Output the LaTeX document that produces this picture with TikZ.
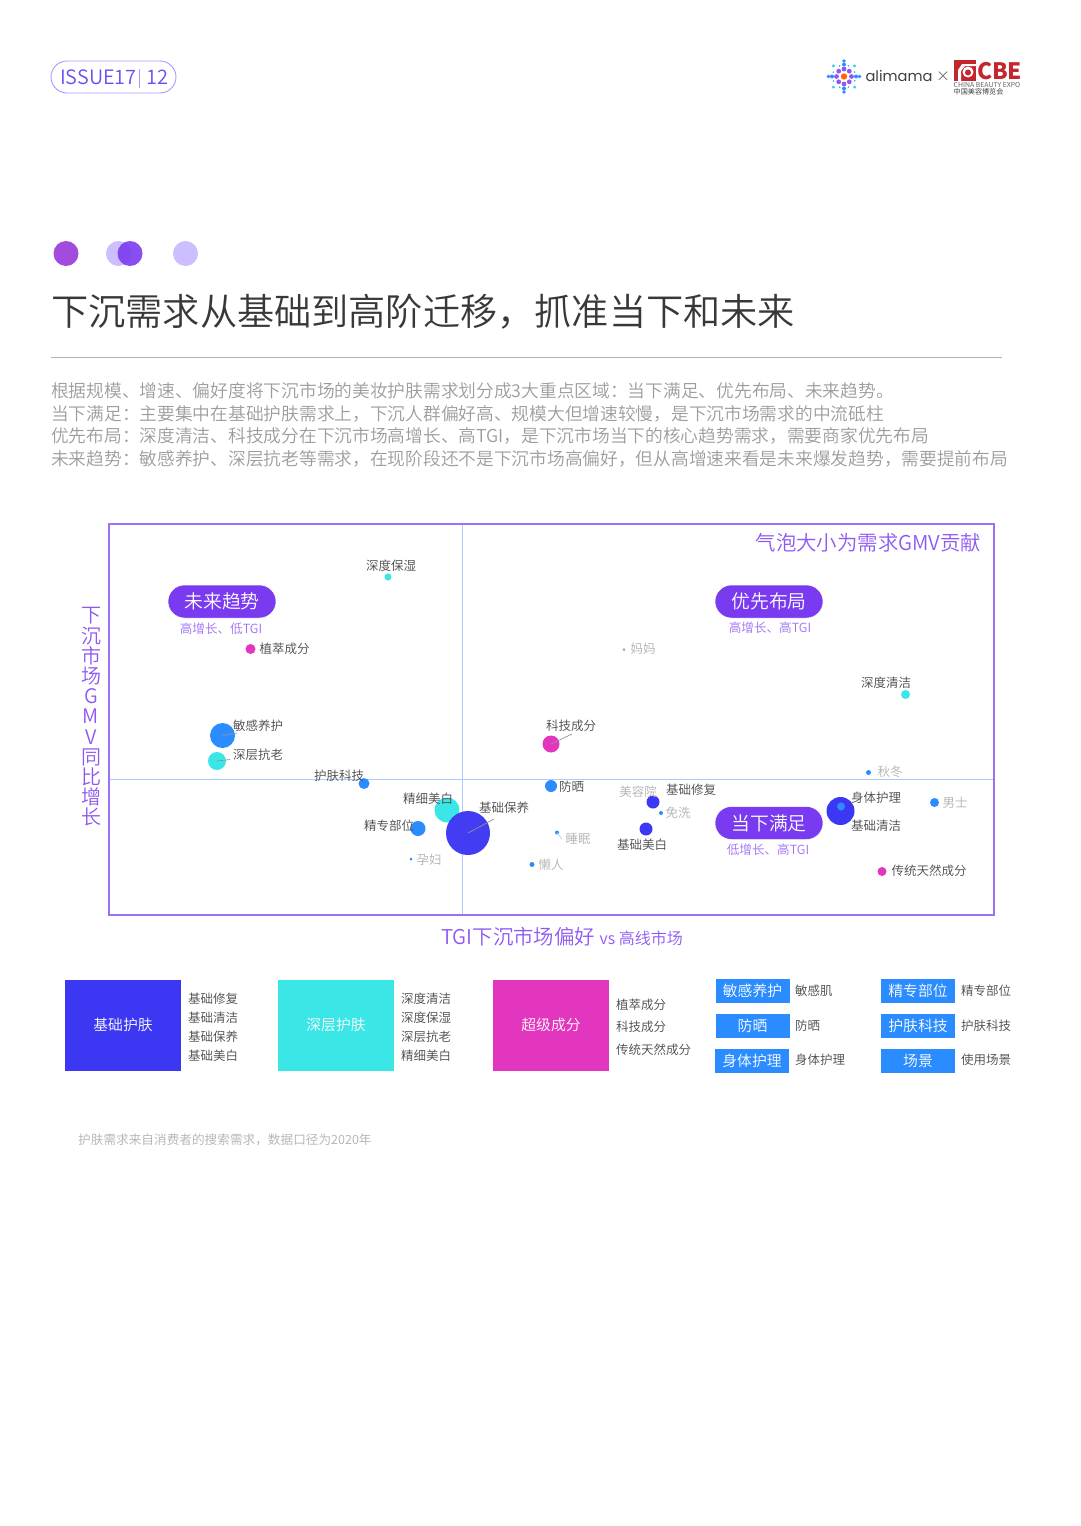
\documentclass[tikz,border=0pt]{standalone}
\usepackage{fontspec}
\setmainfont{Noto Sans CJK SC}
\newfontfamily\lightcjk{Noto Sans CJK SC DemiLight}
\newfontfamily\popfont{Poppins}
\definecolor{indigoc}{HTML}{3C37F2}
\definecolor{cyanc}{HTML}{3BE6E6}
\definecolor{magc}{HTML}{E236BE}
\definecolor{bluec}{HTML}{2B8CFF}
\definecolor{purc}{HTML}{7A3BF0}
\definecolor{framec}{HTML}{9E70F6}
\definecolor{axisc}{HTML}{A9CBFF}
\definecolor{labc}{HTML}{484848}
\definecolor{grayc}{HTML}{B0B0B0}
\definecolor{bodyc}{HTML}{9C9C9C}
\definecolor{lilac}{HTML}{CDBFFF}
\definecolor{redc}{HTML}{C4262E}
\definecolor{issueline}{HTML}{A79BFF}
\definecolor{issuetext}{HTML}{6A4DF5}
\definecolor{dotone}{HTML}{A24BDD}
\newcommand{\fs}[1]{\fontsize{#1}{#1}\selectfont}
\tikzset{
  x=1pt,y=-1pt,
  lab/.style={inner sep=0pt,text=labc,font=\lightcjk\fs{12.5}},
  glab/.style={inner sep=0pt,text=grayc,font=\lightcjk\fs{12.5}},
  bub/.style={circle,inner sep=0pt,minimum size=#1*2pt},
  pill/.style={draw=white,line width=.5pt,fill=purc,text=white,rounded corners=16.5pt,minimum width=108pt,minimum height=33pt,inner sep=0pt,font=\lightcjk\fs{18.8}},
  sub/.style={inner sep=0pt,text=framec,font=\lightcjk\fs{12.6}},
  bigbox/.style={draw=white,line width=.5pt,minimum width=117pt,minimum height=92pt,inner sep=0pt,text=white,font=\lightcjk\fs{14.8}},
  smallbox/.style={fill=bluec,minimum width=74pt,minimum height=24pt,inner sep=0pt,text=white,font=\lightcjk\fs{14.8}},
  body/.style={anchor=west,inner sep=0pt,text=bodyc,font=\lightcjk\fs{17.72}},
  leader/.style={draw=gray!85,line width=.7pt},
}
\begin{document}
\begin{tikzpicture}
\useasboundingbox (0,0) rectangle (1080,1526);
% header pill
\node[draw=issueline,line width=.9pt,rounded corners=16pt,minimum width=125pt,minimum height=32pt,inner sep=0pt] (issue) at (113.5,77) {};
\node[inner sep=0pt,anchor=west,text=issuetext,font=\lightcjk\fs{19.8}] (issuetxt) at (60,77) {ISSUE17};
\draw[issueline,line width=.7pt] (139,69) -- (139,88);
\node[inner sep=0pt,anchor=west,text=issuetext,font=\lightcjk\fs{20}] (issuenum) at (146.5,77) {12};
% logo dots
\foreach \a in {0,45,...,315}{
  \fill[purc!85!white] (844,76.5) ++(\a:7.5) circle (2.4);
  \fill[bluec!70!cyanc] (844,76.5) ++(\a+22:11.5) circle (.9);
}
\foreach \a in {0,90,180,270}{
  \fill[bluec] (844,76.5) ++(\a:12) circle (2);
  \fill[bluec] (844,76.5) ++(\a:15.5) circle (1.8);
}
\foreach \a in {45,135,225,315}{\fill[cyanc!70!bluec] (844,76.5) ++(\a:15) circle (1.6);}
\fill[orange!80!red] (844,76.5) circle (3.2);
\node[inner sep=0pt,text=black!75,font=\popfont\fs{14.6}] (alimama) at (899,76) {alimama};
\node[inner sep=0pt,text=black!60,font=\lightcjk\fs{14}] (cross) at (943,77) {×};
\fill[redc] (954,60) rectangle (976,81);
\fill[white] (968,72) circle (5.5);
\fill[redc] (968,72.5) circle (3);
\fill[white] (958,81) -- (958,70) -- (962,64) -- (976,64) -- (976,66) -- (965,66) -- (961,71) -- (961,81) -- cycle;
\node[inner sep=0pt,anchor=west,text=redc,font=\bfseries\fs{22.6}] (cbe) at (977,71) {CBE};
\node[inner sep=0pt,anchor=west,text=black!60,font=\fs{6.9}] (cbe2) at (953.5,85) {CHINA BEAUTY EXPO};
\node[inner sep=0pt,anchor=west,text=black!75,font=\fs{7.1}] (cbe3) at (953.5,91.5) {中国美容博览会};
% section dots
\fill[dotone] (66,253.5) circle (12.5);
\fill[lilac] (118.5,253.5) circle (12.5);
\fill[purc,opacity=.9] (130,253.5) circle (12.5);
\fill[lilac] (185.5,253.5) circle (12.5);
% title
\node[anchor=west,inner sep=0pt,text=black!78,font=\lightcjk\fs{37.2}] (title) at (51,312) {下沉需求从基础到高阶迁移，抓准当下和未来};
\draw[black!30,line width=.8pt] (51,357) -- (1002,357);
\node[body] (b1) at (51,391) {根据规模、增速、偏好度将下沉市场的美妆护肤需求划分成3大重点区域：当下满足、优先布局、未来趋势。};
\node[body] (b2) at (51,413.5) {当下满足：主要集中在基础护肤需求上，下沉人群偏好高、规模大但增速较慢，是下沉市场需求的中流砥柱};
\node[body] (b3) at (51,436) {优先布局：深度清洁、科技成分在下沉市场高增长、高TGI，是下沉市场当下的核心趋势需求，需要商家优先布局};
\node[body] (b4) at (51,459) {未来趋势：敏感养护、深层抗老等需求，在现阶段还不是下沉市场高偏好，但从高增速来看是未来爆发趋势，需要提前布局};
% chart frame and axes
\draw[axisc,line width=1.6pt] (109,779.5) -- (994,779.5);
\draw[axisc,line width=1.6pt] (462.5,524) -- (462.5,915);
\draw[framec,line width=1.6pt] (109,524) rectangle (994,915);
\node[inner sep=0pt,text=purc!85!white,font=\lightcjk\fs{20.4}] (bubblenote) at (868.5,542.5) {气泡大小为需求GMV贡献};
\node[inner sep=0pt,align=center,text=purc!85!white,font=\lightcjk\fontsize{20}{20.2}\selectfont] (yaxis) at (91,717) {下\\沉\\市\\场\\G\\M\\V\\同\\比\\增\\长};
\node[inner sep=0pt,text=purc!85!white,font=\lightcjk\fs{20.4}] (xaxis) at (562,937) {TGI下沉市场偏好 {\fs{16}vs 高线市场}};
% pills
\node[pill] (p1) at (222,601.5) {未来趋势};
\node[pill] (p2) at (769,601.5) {优先布局};
\node[pill] (p3) at (769,823) {当下满足};
\node[sub] (s1) at (221,629) {高增长、低TGI};
\node[sub] (s2) at (770,628) {高增长、高TGI};
\node[sub] (s3) at (768,850) {低增长、高TGI};
% bubbles
\node[bub=3.5,fill=cyanc] (d1) at (388,577) {};
\node[bub=5,fill=magc] (d2) at (250.5,649) {};
\node[bub=12.5,fill=bluec] (d3) at (222.5,735.5) {};
\node[bub=9,fill=cyanc] (d4) at (217,761) {};
\node[bub=5.5,fill=bluec] (d5) at (364,783.5) {};
\node[bub=12.5,fill=cyanc] (d6) at (447,810) {};
\node[bub=7.5,fill=bluec] (d7) at (418,828.5) {};
\node[bub=22,fill=indigoc,fill opacity=.97] (d8) at (468,833) {};
\node[bub=1.5,fill=bluec] (d9) at (411,859) {};
\node[bub=6,fill=bluec] (d10) at (551,786) {};
\node[bub=8.5,fill=magc] (d11) at (551,744) {};
\node[bub=6.5,fill=indigoc] (d12) at (653,802) {};
\node[bub=2,fill=bluec] (d13) at (661,813) {};
\node[bub=6.5,fill=indigoc] (d14) at (646,829) {};
\node[bub=2,fill=bluec] (d15) at (557,832.5) {};
\node[bub=2.5,fill=bluec] (d16) at (532,864.5) {};
\node[bub=1.5,fill=bluec!70] (d17) at (624,649.5) {};
\node[bub=4.5,fill=cyanc] (d18) at (905.5,694.5) {};
\node[bub=2.5,fill=bluec] (d19) at (868.5,772.5) {};
\node[bub=14,fill=indigoc] (d20) at (840.5,811) {};
\node[bub=4,fill=bluec] (d21) at (841,806.5) {};
\node[bub=4.5,fill=bluec] (d22) at (934.5,802.5) {};
\node[bub=4.5,fill=magc] (d23) at (882,871.5) {};
% bubble labels
\node[lab] (l1) at (391,566) {深度保湿};
\node[lab] (l2) at (284.5,649) {植萃成分};
\node[lab] (l3) at (258,726) {敏感养护};
\node[lab] (l4) at (258,755) {深层抗老};
\node[lab] (l5) at (339,776) {护肤科技};
\node[lab] (l6) at (428,799) {精细美白};
\node[lab] (l7) at (389,825.5) {精专部位};
\node[lab] (l8) at (504,808) {基础保养};
\node[glab] (l9) at (429,860) {孕妇};
\node[lab] (l10) at (571.5,786.5) {防晒};
\node[lab] (l11) at (571,726) {科技成分};
\node[glab] (l12) at (638,792) {美容院};
\node[lab] (l13) at (691,790) {基础修复};
\node[glab] (l14) at (678,813) {免洗};
\node[lab] (l15) at (642,845) {基础美白};
\node[glab] (l16) at (578,839) {睡眠};
\node[glab] (l17) at (551,865) {懒人};
\node[glab] (l18) at (643,649) {妈妈};
\node[lab] (l19) at (886,683) {深度清洁};
\node[glab] (l20) at (890,772) {秋冬};
\node[lab] (l21) at (876,798) {身体护理};
\node[lab] (l22) at (876,826) {基础清洁};
\node[glab] (l23) at (955,803) {男士};
\node[lab] (l24) at (929,871) {传统天然成分};
% leaders
\coordinate (e3) at (237,733);
\coordinate (e4) at (230,759.5);
\coordinate (e8) at (494,819);
\coordinate (e11) at (572,734);
\coordinate (e15) at (562,839);
\draw[leader] (d3.center) -- (e3);
\draw[leader] (d4.center) -- (e4);
\draw[leader] (d8.center) -- (e8);
\draw[leader] (d11.center) -- (e11);
\draw[axisc,line width=.6pt] (d15.center) -- (e15);
% legend
\node[bigbox,fill=indigoc] (g1) at (123,1025) {基础护肤};
\node[bigbox,fill=cyanc] (g2) at (336,1025) {深层护肤};
\node[bigbox,fill=magc] (g3) at (551,1025) {超级成分};
\foreach \t/\y/\n in {基础修复/999/a,基础清洁/1018/b,基础保养/1037/c,基础美白/1056/d}{\node[lab] (g1\n) at (213,\y) {\t};}
\foreach \t/\y/\n in {深度清洁/999/a,深度保湿/1018/b,深层抗老/1037/c,精细美白/1056/d}{\node[lab] (g2\n) at (426,\y) {\t};}
\foreach \t/\y/\n in {植萃成分/1004.5/a,科技成分/1027/b,传统天然成分/1049.5/c}{\node[lab,anchor=west] (g3\n) at (616,\y) {\t};}
\node[smallbox] (h1) at (752.5,991) {敏感养护};
\node[smallbox] (h2) at (752.5,1026) {防晒};
\node[smallbox] (h3) at (752,1061) {身体护理};
\node[smallbox] (h4) at (918,991) {精专部位};
\node[smallbox] (h5) at (918,1026) {护肤科技};
\node[smallbox] (h6) at (918,1060.5) {场景};
\node[lab,anchor=west] (i1) at (795,990.5) {敏感肌};
\node[lab,anchor=west] (i2) at (795,1025.5) {防晒};
\node[lab,anchor=west] (i3) at (795,1059.5) {身体护理};
\node[lab,anchor=west] (i4) at (961,990.5) {精专部位};
\node[lab,anchor=west] (i5) at (961,1025.5) {护肤科技};
\node[lab,anchor=west] (i6) at (961,1059.5) {使用场景};
\node[anchor=west,inner sep=0pt,text=grayc,font=\lightcjk\fs{12.65}] (foot) at (78,1140) {护肤需求来自消费者的搜索需求，数据口径为2020年};
\end{tikzpicture}
\end{document}
